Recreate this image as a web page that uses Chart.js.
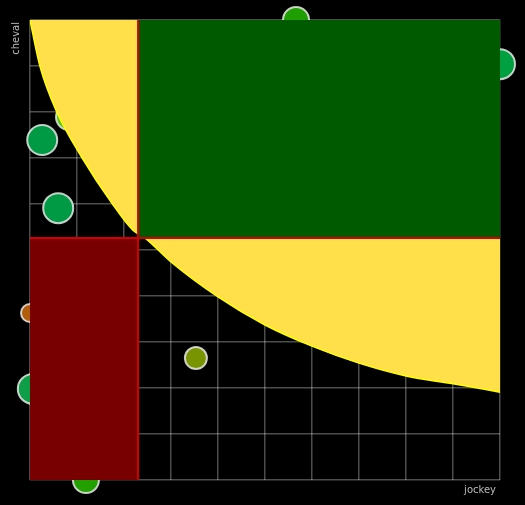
<!DOCTYPE html>
<html>
<head>
<meta charset="utf-8">
<script src="https://cdn.jsdelivr.net/npm/chart.js@4"></script>
<style>
  body { margin: 0; background: #000; }
  #wrap { width: 525px; height: 505px; }
</style>
</head>
<body>
<div id="wrap"><canvas id="chart-quad"></canvas></div>
<script>
// frontier curve (jockey, cheval)
var curveX = [0, 0.21, 0.57, 1.11, 1.74, 2.19, 2.45, 3, 4, 5, 6, 7, 8, 9, 10];
var curveY = [10, 9, 8, 7, 6.02, 5.43, 5.26, 4.74, 3.98, 3.37, 2.91, 2.54, 2.26, 2.09, 1.91];

// quadrant limits
var seuilJockey = 2.3;
var seuilCheval = 5.26;

// points
var jockey = [5.66, 10, 2.94, 3.81, 0.83, 0.26, 2.4, 0.6, 1.06, 1.11, 0, 1.79, 3.53, 0.06, 1.57, 1.19];
var cheval = [10, 9.04, 8.87, 8.87, 7.89, 7.39, 6.59, 5.91, 4.13, 3.78, 3.63, 2.48, 2.65, 1.98, 1.17, 0];
var taille = [13, 15, 11, 13, 13, 15, 11, 15, 15, 13, 9, 11, 11, 15, 11, 13];
var couleurs = ["#1f9e00", "#00a040", "#7fa300", "#21a800", "#55c61c", "#009944", "#7fa300", "#009944",
                "#149a3c", "#2ea314", "#b05e0c", "#8a9e00", "#789400", "#0f9e48", "#8a9e00", "#21a000"];

var quadrants = {
  id: "quadrants",
  afterDatasetDraw: function (chart, args) {
    if (args.index !== 0) return;
    var ctx = chart.ctx, x = chart.scales.x, y = chart.scales.y;
    var xs = x.getPixelForValue(seuilJockey), ys = y.getPixelForValue(seuilCheval);
    var l = x.getPixelForValue(0), r = x.getPixelForValue(10);
    var t = y.getPixelForValue(10), b = y.getPixelForValue(0);
    ctx.save();
    ctx.fillStyle = "#005a00";
    ctx.fillRect(xs, t, r - xs, ys - t);
    ctx.fillStyle = "#780000";
    ctx.fillRect(l, ys, xs - l, b - ys);
    ctx.strokeStyle = "#d00000";
    ctx.lineWidth = 2;
    ctx.beginPath();
    ctx.moveTo(xs, t); ctx.lineTo(xs, b);
    ctx.moveTo(l, ys); ctx.lineTo(r, ys);
    ctx.stroke();
    ctx.restore();
  },
  afterDraw: function (chart) {
    var ctx = chart.ctx, a = chart.chartArea;
    ctx.save();
    ctx.fillStyle = "#bbbbbb";
    ctx.font = "10px 'DejaVu Sans'";
    ctx.textAlign = "right";
    ctx.textBaseline = "middle";
    ctx.fillText("jockey", a.right - 4, a.bottom + 10);
    ctx.translate(a.left - 14, a.top);
    ctx.rotate(-Math.PI / 2);
    ctx.textAlign = "right";
    ctx.fillText("cheval", -2, 0);
    ctx.restore();
  }
};

var ctx = document.getElementById("chart-quad").getContext("2d");
var chart = new Chart(ctx, {
  type: "bubble",
  data: {
    datasets: [
      {
        type: "line",
        data: curveX.map(function (v, i) { return { x: v, y: curveY[i] }; }),
        borderColor: "#ffff00",
        borderWidth: 1.5,
        backgroundColor: "#ffe04a",
        fill: "end",
        pointRadius: 0,
        tension: 0.4,
        cubicInterpolationMode: "monotone",
      },
      {
        data: jockey.map(function (v, i) { return { x: v, y: cheval[i], r: taille[i] }; }),
        backgroundColor: couleurs,
        borderColor: "rgba(230, 230, 230, .85)",
        borderWidth: 2,
        clip: false,
      },
    ],
  },
  options: {
    responsive: true,
    maintainAspectRatio: false,
    animation: false,
    layout: { padding: { left: 30, right: 25, top: 20, bottom: 25 } },
    plugins: { legend: { display: false }, tooltip: { enabled: false } },
    scales: {
      x: {
        type: "linear", min: 0, max: 10,
        ticks: { display: false, stepSize: 1 },
        grid: { color: "rgba(255, 255, 255, .3)", drawTicks: false, lineWidth: 1.5 },
        border: { display: false },
      },
      y: {
        type: "linear", min: 0, max: 10,
        ticks: { display: false, stepSize: 1 },
        grid: { color: "rgba(255, 255, 255, .3)", drawTicks: false, lineWidth: 1.5 },
        border: { display: false },
      },
    },
  },
  plugins: [quadrants],
});
</script>
</body>
</html>
